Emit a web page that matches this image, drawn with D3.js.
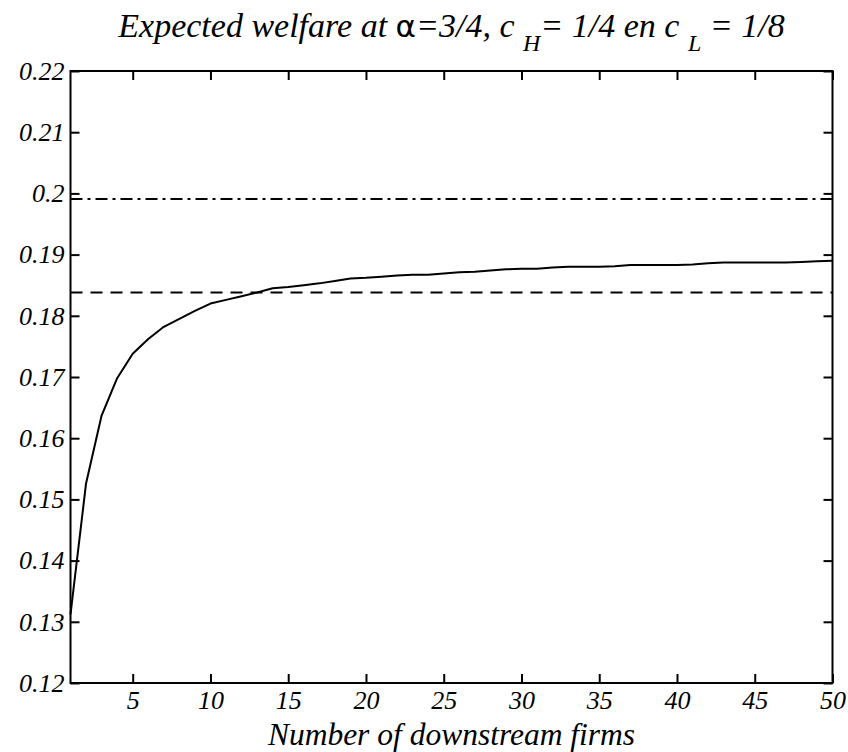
<!DOCTYPE html>
<html><head><meta charset="utf-8">
<script src="https://cdn.jsdelivr.net/npm/d3@7"></script>
<style>
body{margin:0;background:#fff}
text{font-family:"Liberation Serif","Times New Roman",serif;font-style:italic;fill:#000}
</style>
</head><body><svg id="c" width="848" height="752"></svg>
<script>
// ---- data ----
const firms = d3.range(1, 51);
const welfare = [
  0.1312, 0.1526, 0.1637, 0.1698, 0.1738, 0.1762, 0.1782, 0.1795, 0.1808, 0.1820,
  0.1826, 0.1832, 0.1838, 0.1845, 0.1847, 0.1850, 0.1853, 0.1857, 0.1861, 0.1862,
  0.1864, 0.1866, 0.1867, 0.1867, 0.1869, 0.1871, 0.1872, 0.1874, 0.1876, 0.1877,
  0.1877, 0.1879, 0.1880, 0.1880, 0.1880, 0.1881, 0.1883, 0.1883, 0.1883, 0.1883,
  0.1884, 0.1886, 0.1887, 0.1887, 0.1887, 0.1887, 0.1887, 0.1888, 0.1889, 0.1890
];
const dashedLevel = 0.1838;
const dashDotLevel = 0.1991;
const xTicks = [5, 10, 15, 20, 25, 30, 35, 40, 45, 50];
const yTicks = [0.12, 0.13, 0.14, 0.15, 0.16, 0.17, 0.18, 0.19, 0.20, 0.21, 0.22];
const yTickLabels = ["0.12","0.13","0.14","0.15","0.16","0.17","0.18","0.19","0.2","0.21","0.22"];
const xDomain = [1, 50];
const yDomain = [0.12, 0.22];

// ---- layout ----
const L = 70.5, R = 832.5, T = 71, B = 683;
const svg = d3.select("#c");
const x = d3.scaleLinear().domain(xDomain).range([L, R]);
const y = d3.scaleLinear().domain(yDomain).range([B, T]);

const tickLen = 9, fs = 26;

function styleAxis(g){
  g.select(".domain").remove();
  g.selectAll(".tick line").attr("stroke", "#000").attr("stroke-width", 2);
  g.selectAll(".tick text").attr("font-size", fs).attr("font-family", null)
    .style("font-family", '"Liberation Serif","Times New Roman",serif');
}

svg.append("g").attr("transform", `translate(0,${B})`)
  .call(d3.axisBottom(x).tickValues(xTicks).tickSizeInner(-tickLen).tickSizeOuter(0).tickPadding(8).tickFormat(d3.format("d")))
  .call(styleAxis);
svg.append("g").attr("transform", `translate(0,${T})`)
  .call(d3.axisTop(x).tickValues(xTicks).tickSizeInner(-tickLen).tickSizeOuter(0).tickFormat(""))
  .call(styleAxis);
svg.append("g").attr("transform", `translate(${L},0)`)
  .call(d3.axisLeft(y).tickValues(yTicks).tickSizeInner(-tickLen).tickSizeOuter(0).tickPadding(6).tickFormat((d, i) => yTickLabels[i]))
  .call(styleAxis);
svg.append("g").attr("transform", `translate(${R},0)`)
  .call(d3.axisRight(y).tickValues(yTicks).tickSizeInner(-tickLen).tickSizeOuter(0).tickFormat(""))
  .call(styleAxis);

// reference lines
svg.append("line")
  .attr("x1", x(xDomain[0])).attr("x2", x(xDomain[1]))
  .attr("y1", y(dashDotLevel)).attr("y2", y(dashDotLevel))
  .attr("stroke", "#000").attr("stroke-width", 2).attr("stroke-dasharray", "12,5,3,5");
svg.append("line")
  .attr("x1", x(xDomain[0])).attr("x2", x(xDomain[1]))
  .attr("y1", y(dashedLevel)).attr("y2", y(dashedLevel))
  .attr("stroke", "#000").attr("stroke-width", 2).attr("stroke-dasharray", "12,8");

// curve
const line = d3.line().x((d, i) => x(firms[i])).y(d => y(d));
svg.append("path").datum(welfare)
  .attr("d", line).attr("fill", "none").attr("stroke", "#000").attr("stroke-width", 2)
  .attr("stroke-linejoin", "round");

// box
svg.append("rect").attr("x", L).attr("y", T).attr("width", R - L).attr("height", B - T)
  .attr("fill", "none").attr("stroke", "#000").attr("stroke-width", 2);

// title
const title = svg.append("text").attr("x", (L + R) / 2).attr("y", 37)
  .attr("text-anchor", "middle").attr("font-size", 34);
title.append("tspan").text("Expected welfare at ");
title.append("tspan").style("font-style", "normal").style("font-family", '"DejaVu Sans",sans-serif').attr("font-size", 31).text("α");
title.append("tspan").text("=3/4, c ");
title.append("tspan").attr("font-size", 24).attr("dy", 14).text("H");
title.append("tspan").attr("dy", -14).text("= 1/4 en c ");
title.append("tspan").attr("font-size", 24).attr("dy", 14).text("L");
title.append("tspan").attr("dy", -14).text(" = 1/8");

// x label
svg.append("text").attr("x", (L + R) / 2).attr("y", 745)
  .attr("text-anchor", "middle").attr("font-size", 31.5).text("Number of downstream firms");
</script></body></html>
